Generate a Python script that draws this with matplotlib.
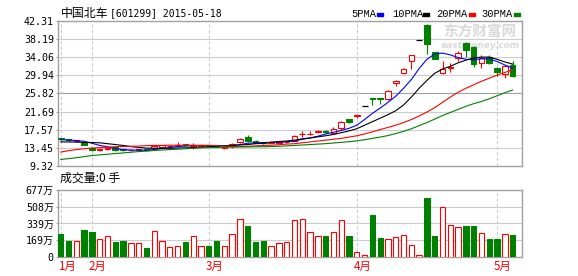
import matplotlib
matplotlib.use('Agg')
import matplotlib.pyplot as plt
import matplotlib.transforms as mtransforms
from matplotlib.patches import Rectangle
import numpy as np

# daily bars (59 trading days, Jan - May 2015), prices in yuan
opens = [15.6, 15.4, 15.0, 14.7, 13.5, 13.0, 13.1, 13.7, 13.2, 12.9,
         13.0, 13.2, 13.4, 13.7, 13.8, 13.9, 14.3, 13.9, 13.9, 14.0,
         13.9, 13.4, 14.0, 14.8, 16.0, 15.1, 14.7, 14.6, 14.6, 14.7,
         15.1, 16.6, 16.6, 17.1, 17.3, 16.9, 17.9, 19.9, 20.7, 22.94,
         24.7, 24.7, 24.5, 28.3, 30.4, 33.2, 37.95, 41.3, 35.2, 30.4,
         31.7, 33.9, 37.2, 36.5, 32.7, 34.1, 31.7, 30.2, 32.3]
highs = [15.7, 15.5, 15.3, 14.9, 13.6, 13.3, 13.5, 13.8, 13.3, 13.1,
         13.2, 13.3, 14.0, 14.1, 14.0, 14.7, 14.4, 14.6, 14.1, 14.1,
         14.0, 13.8, 14.6, 15.6, 16.4, 15.2, 14.8, 14.9, 14.95, 14.9,
         16.3, 17.3, 17.2, 17.6, 17.4, 18.2, 19.5, 20.0, 20.85, 22.94,
         24.8, 24.8, 26.5, 28.8, 31.6, 34.6, 37.95, 41.7, 35.3, 33.3,
         32.8, 35.5, 37.5, 36.6, 34.6, 34.6, 31.8, 32.4, 33.3]
lows = [15.3, 15.1, 14.9, 14.0, 12.8, 12.8, 13.0, 12.8, 12.8, 12.8,
        12.9, 12.9, 13.3, 13.6, 13.7, 13.6, 13.9, 13.3, 13.8, 13.8,
        13.6, 13.3, 13.4, 14.6, 14.8, 14.5, 14.4, 14.5, 14.35, 14.6,
        15.0, 16.0, 16.3, 16.9, 16.9, 16.6, 17.6, 19.1, 20.2, 22.94,
        23.1, 23.5, 24.3, 27.6, 30.2, 31.5, 37.95, 34.7, 33.6, 30.3,
        30.7, 33.1, 34.2, 31.8, 31.6, 32.5, 29.8, 29.3, 29.6]
closes = [15.4, 15.2, 15.2, 14.1, 12.9, 13.1, 13.4, 12.9, 12.9, 13.0,
          13.1, 13.0, 13.95, 14.0, 13.9, 14.0, 14.0, 14.0, 14.0, 13.9,
          13.7, 13.7, 14.3, 15.4, 14.9, 14.6, 14.5, 14.8, 14.7, 14.8,
          16.2, 16.7, 16.7, 17.3, 17.1, 17.85, 19.4, 19.3, 20.85, 22.94,
          24.5, 24.5, 26.3, 28.7, 31.5, 34.5, 37.95, 37.0, 33.7, 31.4,
          31.8, 35.1, 35.6, 32.5, 33.9, 32.7, 30.6, 32.1, 29.9]
# volume in 万手
volume = [230, 162, 166, 271, 250, 186, 217, 152, 159, 139,
          139, 88, 267, 166, 105, 115, 149, 217, 115, 108,
          159, 115, 237, 389, 311, 149, 159, 115, 139, 156,
          369, 389, 257, 217, 217, 257, 369, 217, 54, 20,
          423, 196, 186, 206, 227, 125, 24, 596, 217, 501,
          328, 308, 318, 318, 247, 186, 186, 237, 227]
ma5 = [15.3, 15.25, 15.1, 14.95, 14.5, 14.0, 13.7, 13.3, 13.05, 12.95,
       12.9, 12.95, 13.05, 13.3, 13.5, 13.75, 13.85, 13.95, 14.0, 14.0,
       13.95, 13.9, 13.95, 14.2, 14.5, 14.6, 14.65, 14.7, 14.75, 14.85,
       15.0, 15.4, 15.7, 16.1, 16.6, 17.0, 17.4, 17.9, 18.6, 19.9,
       21.3, 22.5, 23.8, 25.2, 27.0, 29.0, 31.5, 33.6, 34.8, 35.0,
       34.6, 34.0, 33.6, 33.5, 33.7, 33.7, 33.1, 32.3, 31.6]
ma10 = [14.8, 14.8, 14.75, 14.7, 14.65, 14.6, 14.4, 14.2, 14.0, 13.75,
        13.55, 13.4, 13.35, 13.35, 13.35, 13.4, 13.45, 13.5, 13.6, 13.7,
        13.8, 13.9, 14.0, 14.1, 14.2, 14.4, 14.5, 14.7, 14.9, 15.0,
        15.2, 15.5, 15.7, 15.95, 16.2, 16.5, 16.9, 17.3, 17.8, 18.6,
        19.4, 20.2, 21.0, 21.9, 23.2, 25.0, 27.0, 28.8, 30.4, 31.4,
        32.0, 32.8, 33.4, 33.9, 34.1, 34.1, 33.6, 33.0, 32.5]
ma20 = [12.5, 12.8, 13.05, 13.25, 13.4, 13.5, 13.6, 13.7, 13.75, 13.8,
        13.85, 13.95, 14.0, 14.0, 14.05, 14.05, 14.05, 14.05, 14.0, 14.0,
        13.95, 13.8, 13.75, 13.75, 13.8, 13.9, 14.0, 14.05, 14.15, 14.3,
        14.4, 14.6, 14.8, 15.0, 15.2, 15.4, 15.6, 15.9, 16.2, 16.6,
        17.1, 17.6, 18.1, 18.6, 19.2, 19.9, 20.7, 21.6, 22.6, 23.8,
        25.0, 26.1, 27.0, 27.8, 28.6, 29.3, 30.0, 30.6, 31.2]
ma30 = [10.8, 11.0, 11.2, 11.45, 11.7, 11.85, 12.0, 12.15, 12.3, 12.45,
        12.6, 12.7, 12.85, 12.95, 13.05, 13.15, 13.25, 13.35, 13.45, 13.5,
        13.55, 13.6, 13.6, 13.65, 13.65, 13.7, 13.7, 13.75, 13.8, 13.9,
        14.0, 14.1, 14.2, 14.3, 14.4, 14.55, 14.7, 14.85, 15.05, 15.3,
        15.6, 15.9, 16.25, 16.7, 17.2, 17.8, 18.5, 19.2, 20.0, 20.8,
        21.5, 22.2, 22.9, 23.5, 24.0, 24.6, 25.3, 26.0, 26.6]

month_labels = ['1月', '2月', '3月', '4月', '5月']
month_pos = [0, 4, 19, 38, 56]
price_ticks = [9.32, 13.45, 17.57, 21.69, 25.82, 29.94, 34.06, 38.19, 42.31]
vol_ticks = [0, 169, 339, 508, 677]
vol_labels = ['0', '169万', '339万', '508万', '677万']

RED = '#ff0000'
GREEN = '#008000'
GRID = '#cccccc'
BORDER = '#a0a0a0'
CJK = ['Noto Sans CJK SC', 'DejaVu Sans']
MONO_CJK = ['DejaVu Sans Mono', 'Noto Sans CJK SC']

W, H = 578, 276
def fx(x):
    return x / W
def fy(y):
    return 1 - y / H

fig = plt.figure(figsize=(W / 100, H / 100), dpi=100)
ax = fig.add_axes([fx(58), fy(166), (522 - 58) / W, (166 - 21) / H])
axv = fig.add_axes([fx(58), fy(257), (522 - 58) / W, (257 - 190) / H])

idx = np.arange(len(closes))
o = np.array(opens)
c = np.array(closes)
hi = np.array(highs)
lo = np.array(lows)
up = c > o
down = c < o
flat = c == o

# grid
for t in price_ticks[1:-1]:
    ax.axhline(t, color='#a0a0a0' if t == 25.82 else GRID, lw=0.8, zorder=0)
for t in vol_ticks[1:-1]:
    axv.axhline(t, color=GRID, lw=0.8, zorder=0)
for a in (ax, axv):
    for p in month_pos:
        a.axvline(p, color=GRID, lw=0.8, ls=(0, (3, 2)), zorder=0)

# watermark
ax.text(fx(480), fy(32), '东方财富网', transform=fig.transFigure, ha='center', va='center',
        fontsize=10.5, fontweight='bold', color='#dadada', family=CJK, zorder=0.5)
ax.text(fx(480), fy(45), 'eastmoney.com', transform=fig.transFigure, ha='center', va='center',
        fontsize=6.5, fontweight='bold', style='italic', color='#dadada', zorder=0.5)

# candles
wick_col = np.where(up, RED, np.where(down, GREEN, 'black'))
ax.vlines(idx, lo, hi, colors=list(wick_col), lw=0.8, zorder=2)
ax.bar(idx[up], (c - o)[up], bottom=o[up], width=0.72, facecolor='white',
       edgecolor=RED, lw=0.8, zorder=3)
ax.bar(idx[down], (o - c)[down], bottom=c[down], width=0.72, facecolor=GREEN,
       edgecolor=GREEN, lw=0.8, zorder=3)
ax.hlines(c[flat], idx[flat] - 0.38, idx[flat] + 0.38, colors='black', lw=0.9, zorder=3)

# moving averages
ax.plot(idx, ma5, color='#0000ff', lw=0.8, zorder=4)
ax.plot(idx, ma10, color='black', lw=0.8, zorder=4)
ax.plot(idx, ma20, color=RED, lw=0.8, zorder=4)
ax.plot(idx, ma30, color=GREEN, lw=0.8, zorder=4)

# volume
vol = np.array(volume)
vup = c >= o
axv.bar(idx[vup], vol[vup], width=0.68, facecolor='white', edgecolor=RED, lw=0.8, zorder=3)
axv.bar(idx[~vup], vol[~vup], width=0.68, facecolor=GREEN, edgecolor=GREEN, lw=0.8, zorder=3)

for a in (ax, axv):
    a.set_xlim(-0.35, 59.2)
    a.set_xticks([])
    for s in a.spines.values():
        s.set_color(BORDER)
        s.set_linewidth(1)
    a.tick_params(axis='y', length=1.5, width=0.8, color=BORDER, pad=1.5)

ax.set_ylim(price_ticks[0], price_ticks[-1])
ax.set_yticks(price_ticks)
ax.set_yticklabels(['%.2f' % t for t in price_ticks], family='DejaVu Sans Mono', fontsize=7.2)

axv.set_ylim(0, 677)
axv.set_yticks(vol_ticks)
axv.set_yticklabels(vol_labels, family=MONO_CJK, fontsize=7.2)

# month labels under volume panel
trans = mtransforms.blended_transform_factory(axv.transData, axv.transAxes)
for lab, p in zip(month_labels, month_pos):
    axv.text(p - 0.4, -0.145, lab, transform=trans, ha='left', va='center',
             color=RED, fontsize=8.3, family=CJK)

# titles
fig.text(fx(61), fy(13.5), '中国北车', ha='left', va='center', fontsize=8.6, family=CJK)
fig.text(fx(110), fy(13.5), '[601299] 2015-05-18', ha='left', va='center',
         fontsize=7.0, family='DejaVu Sans Mono')
fig.text(fx(60), fy(178), '成交量:0 手', ha='left', va='center', fontsize=8.6, family=CJK)

# MA legend
legend_items = [('5PMA', 351.3, 377.3, '#0000ff'), ('10PMA', 392, 423, 'black'),
                ('20PMA', 436.3, 469, RED), ('30PMA', 481.3, 513.7, GREEN)]
for name, tx, rx, col in legend_items:
    fig.text(fx(tx), fy(14.3), name, ha='left', va='center', fontsize=7.5,
             family='Liberation Mono')
    fig.patches.append(Rectangle((fx(rx), fy(15.7)), 6 / W, 3 / H, color=col,
                                 transform=fig.transFigure, figure=fig))

fig.savefig('out.png', dpi=100)
